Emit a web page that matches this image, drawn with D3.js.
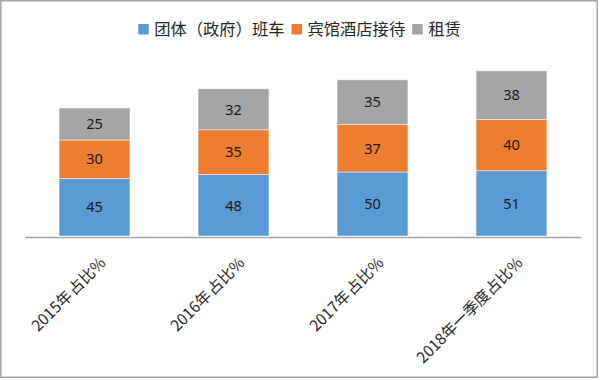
<!DOCTYPE html>
<html><head><meta charset="utf-8">
<script src="https://cdn.jsdelivr.net/npm/d3@7"></script>
<style>
html,body{margin:0;padding:0;background:#fff;}
svg{display:block;}
</style>
</head><body>
<svg id="chart" width="600" height="380"></svg>
<script>
const categories = ["2015年 占比%", "2016年 占比%", "2017年 占比%", "2018年一季度占比%"];
const seriesNames = ["团体（政府）班车", "宾馆酒店接待", "租赁"];
const seriesColors = ["#5B9BD5", "#ED7D31", "#A5A5A5"];
const busValues = [45, 48, 50, 51];
const hotelValues = [30, 35, 37, 40];
const rentValues = [25, 32, 35, 38];

const svg = d3.select("#chart");
const W = 600, H = 380;
const cjk = "'Noto Sans CJK SC', 'Noto Sans', sans-serif";

// border
svg.append("rect").attr("x", 0.75).attr("y", 0.75).attr("width", 596.5).attr("height", 376.5)
  .attr("fill", "#fff").attr("stroke", "#a6a6a6").attr("stroke-width", 1.5);

const rows = categories.map((c, i) => ({cat: c, s0: busValues[i], s1: hotelValues[i], s2: rentValues[i]}));
const stack = d3.stack().keys(["s0", "s1", "s2"]);
const layers = stack(rows);

const x = d3.scaleBand().domain(categories).range([25, 581]).paddingInner(0.49).paddingOuter(0.245);
const y = d3.scaleLinear().domain([0, 130]).range([236, 69.6]);

// axis
const axis = d3.axisBottom(x).tickSize(0).tickSizeOuter(0);
const gx = svg.append("g").attr("transform", "translate(0,237)").call(axis);
gx.select(".domain").attr("stroke", "#a6a6a6").attr("stroke-width", 1.5);
gx.selectAll(".tick text")
  .attr("font-family", cjk).attr("font-size", 15.5).attr("fill", "#262626")
  .attr("word-spacing", -2)
  .attr("text-anchor", "end").attr("x", 0).attr("y", 0).attr("dy", null)
  .attr("transform", "translate(12,27) rotate(-45)");

// bars
const g = svg.append("g");
layers.forEach((layer, li) => {
  g.selectAll(".bar" + li).data(layer).enter().append("rect")
    .attr("x", (d, i) => x(categories[i]))
    .attr("width", x.bandwidth())
    .attr("y", d => y(d[1]))
    .attr("height", d => y(d[0]) - y(d[1]))
    .attr("fill", seriesColors[li])
    .attr("stroke", "#ffffff").attr("stroke-opacity", 0.6).attr("stroke-width", 0.8);
  g.selectAll(".lab" + li).data(layer).enter().append("text")
    .attr("x", (d, i) => x(categories[i]) + x.bandwidth() / 2)
    .attr("y", d => (y(d[0]) + y(d[1])) / 2)
    .attr("dy", "0.36em")
    .attr("text-anchor", "middle")
    .attr("font-family", "'Noto Sans', 'DejaVu Sans', sans-serif")
    .attr("font-size", 14.5)
    .attr("fill", "#1a1a1a")
    .text(d => d.data["s" + li]);
});

// legend
const lg = svg.append("g");
let cx = 0;
seriesNames.forEach((n, i) => {
  const it = lg.append("g");
  it.append("rect").attr("x", 0).attr("y", -5).attr("width", 10.5).attr("height", 10.5).attr("fill", seriesColors[i]);
  const t = it.append("text").attr("x", 16).attr("y", 0).attr("dy", "0.36em")
    .attr("font-family", cjk).attr("font-size", 16.3).attr("fill", "#262626").text(n);
  const w = 16 + t.node().getComputedTextLength();
  it.attr("transform", `translate(${cx},0)`);
  cx += w + 7;
});
const total = cx - 7;
lg.attr("transform", `translate(${(W - total) / 2 - 0.5},29)`);
</script>
</body></html>
